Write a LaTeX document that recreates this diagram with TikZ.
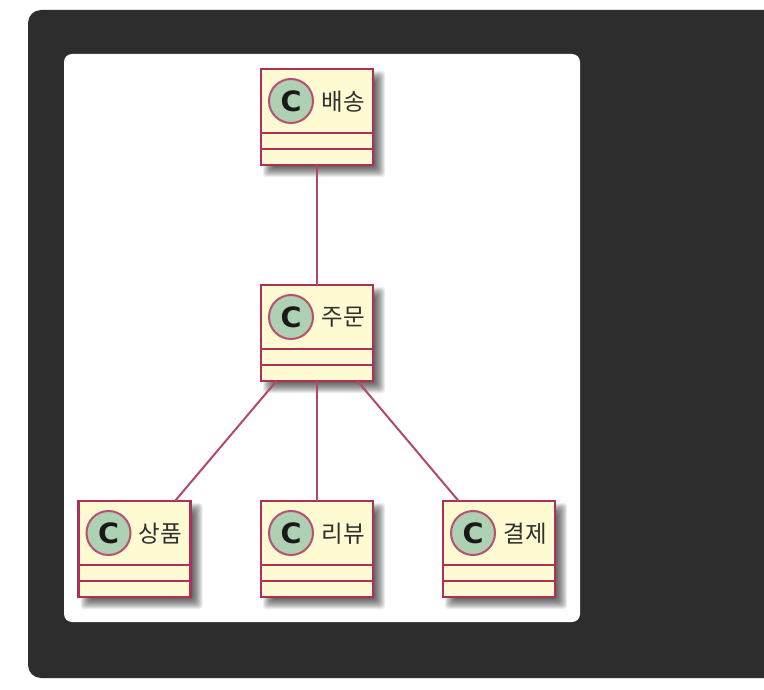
\documentclass[tikz,border=0pt]{standalone}
\usepackage{graphicx}
\usepackage{fontspec}
\newfontfamily\cjk{Noto Sans CJK KR}
\newfontfamily\cfont{DejaVu Sans}[BoldFont={DejaVu Sans Bold}]
\definecolor{panel}{HTML}{2D2D2D}
\definecolor{umlline}{HTML}{AE3059}
\definecolor{umledge}{HTML}{B2486E}
\definecolor{umlfill}{HTML}{FEFAD2}
\definecolor{spot}{HTML}{ADD1B2}
\definecolor{labelink}{HTML}{303030}
\tikzset{
  classbox/.style={draw=umlline,fill=umlfill,line width=2.6pt,minimum width=112pt,minimum height=96pt,inner sep=0pt,outer sep=0pt,rectangle},
  spotc/.style={circle,draw=umlline!85,fill=spot,line width=2pt,minimum size=44pt,inner sep=0pt,font=\cfont\bfseries\fontsize{28}{28}\selectfont,text=black!90},
  classlabel/.style={font=\cjk\fontsize{23.5}{25}\selectfont,text=labelink,inner sep=0pt},
  divider/.style={draw=umlline,line width=2.6pt},
  edge/.style={draw=umledge,line width=2pt},
  shadowlayer/.style={fill=black,fill opacity=0.075,rounded corners=3pt}
}
\newcommand{\classshadow}[2]{%
  \foreach \g in {-5,-4,-3,-2,-1,0,1,2,3,4,5}{
    \fill[shadowlayer] (#1-56+7-\g,#2-48+7-\g) rectangle (#1+56+7+\g,#2+48+7+\g);
  }}
\newcommand{\classnode}[4]{%
  \classshadow{#2}{#3}
  \node[classbox] (#1) at (#2,#3) {};
  \draw[divider] ($(#1.north west)+(0,64)$) -- ($(#1.north east)+(0,64)$);
  \draw[divider] ($(#1.north west)+(0,80)$) -- ($(#1.north east)+(0,80)$);
  \node[spotc] (#1c) at ($(#1.north west)+(30,32)$) {\scalebox{1.02}[1]{C}};
  \node[classlabel] (#1t) at ($(#1.north west)+(82,32.5)$) {#4};
}
\usetikzlibrary{calc}
\begin{document}
\begin{tikzpicture}[x=1pt,y=-1pt]
\useasboundingbox (0,0) rectangle (764,690);
\fill[white] (0,0) rectangle (764,690);
\fill[panel] (764,10) [rounded corners=13pt] -- (28,10) -- (28,678) [sharp corners] -- (764,678) -- cycle;
\fill[white,rounded corners=8pt] (64,54) rectangle (580,622);
\classnode{ship}{317}{117}{배송}
\classnode{order}{317}{333}{주문}
\classnode{product}{134.5}{549}{상품}
\classnode{review}{317}{549}{리뷰}
\classnode{pay}{499}{549}{결제}
\draw[edge] (ship) -- (order);
\draw[edge] (order) -- (product);
\draw[edge] (order) -- (review);
\draw[edge] (order) -- (pay);
\end{tikzpicture}
\end{document}
